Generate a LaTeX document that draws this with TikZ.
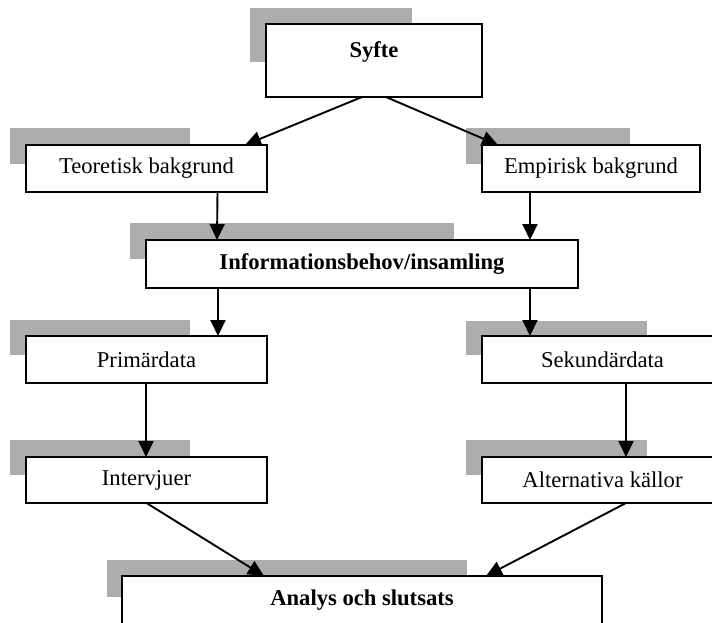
\documentclass[tikz,border=0pt]{standalone}
\usepackage{fontspec}
\setmainfont{Liberation Serif}
\usepackage{tikz}
\usetikzlibrary{arrows.meta}

\begin{document}
\begin{tikzpicture}[x=1pt, y=-1pt,
    every node/.style={font=\fontsize{22.6}{27}\selectfont, inner sep=0pt, outer sep=0pt},
    box/.style={draw, fill=white, line width=2pt},
    stipple/.style={fill=black!32},
    arr/.style={-{Triangle[length=16pt, width=15pt]}, line width=1.9pt}]
    \path[use as bounding box] (0,0) rectangle (712,622);
    \clip (0,0) rectangle (712,622);

    \fill[stipple] (250,8) rectangle (412,62);
    \fill[stipple] (10,128) rectangle (190,164);
    \fill[stipple] (466,128) rectangle (630,164);
    \fill[stipple] (130,223) rectangle (454,259);
    \fill[stipple] (10,320) rectangle (190,355);
    \fill[stipple] (466,321) rectangle (647,355);
    \fill[stipple] (10,440) rectangle (190,475);
    \fill[stipple] (466,440) rectangle (647,475);
    \fill[stipple] (107,560) rectangle (467,597);

    \node[box, minimum width=216pt, text height=33pt, text depth=40pt] (syfte) at (374,60.5) {\textbf{Syfte}};
    \node[box, minimum width=241pt, minimum height=47pt] (teo) at (146.5,168.5) {Teoretisk bakgrund};
    \node[box, minimum width=218pt, minimum height=47pt] (emp) at (591,168.5) {Empirisk bakgrund};
    \node[box, minimum width=432pt, minimum height=48pt] (info) at (362,264) {\textbf{Informationsbehov/insamling}};
    \node[box, minimum width=241pt, minimum height=47pt] (prim) at (146.5,359.5) {Primärdata};
    \node[box, minimum width=241pt, minimum height=47pt] (sek) at (602.5,359.5) {Sekundärdata};
    \node[box, minimum width=241pt, minimum height=46pt] (interv) at (146.5,480) {Intervjuer};
    \node[box, minimum width=241pt, minimum height=46pt] (alt) at (602.5,480) {Alternativa källor};
    \node[box, minimum width=480pt, minimum height=49pt] (analys) at (362,600.5) {\textbf{Analys och slutsats}};

    \draw[arr] ([xshift=-12pt]syfte.south) -- ([xshift=98.5pt]teo.north);
    \draw[arr] ([xshift=12pt]syfte.south) -- ([xshift=-93pt]emp.north);
    \draw[arr] ([xshift=71pt]teo.south) -- ([xshift=-145pt]info.north);
    \draw[arr] ([xshift=-61pt]emp.south) -- ([xshift=168pt]info.north);
    \draw[arr] ([xshift=-144pt]info.south) -- ([xshift=71.5pt]prim.north);
    \draw[arr] ([xshift=168pt]info.south) -- ([xshift=-72.5pt]sek.north);
    \draw[arr] ([xshift=-0.5pt]prim.south) -- ([xshift=-0.5pt]interv.north);
    \draw[arr] ([xshift=23.5pt]sek.south) -- ([xshift=23.5pt]alt.north);
    \draw[arr] (interv.south) -- ([xshift=-98pt]analys.north);
    \draw[arr] ([xshift=23.5pt]alt.south) -- ([xshift=124pt]analys.north);
\end{tikzpicture}
\end{document}
